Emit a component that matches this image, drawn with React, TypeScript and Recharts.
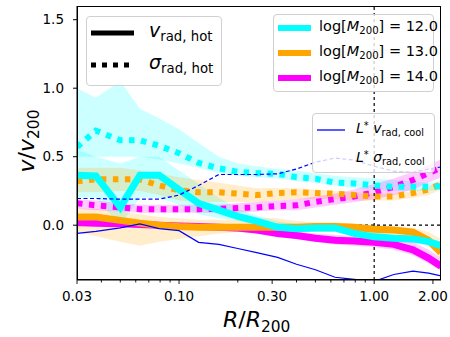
import { Area, ComposedChart, Line, ReferenceLine, XAxis, YAxis } from 'recharts'

const radius = [0.03, 0.0375, 0.05, 0.063, 0.079, 0.1, 0.126, 0.16, 0.2, 0.25, 0.32, 0.4, 0.5, 0.63, 0.79, 1.0, 1.26, 1.58, 1.9, 2.2]

// v_rad,hot (solid) and sigma_rad,hot (dotted) per halo mass
const vHot12 = [0.365, 0.36, 0.13, 0.365, 0.365, 0.26, 0.16, 0.11, 0.065, 0.03, -0.015, -0.025, -0.02, -0.02, -0.06, -0.085, -0.095, -0.1, -0.12, -0.15]
const vHot13 = [0.06, 0.06, 0.035, 0.015, 0.0, -0.01, -0.015, -0.015, -0.015, -0.015, -0.015, -0.015, -0.01, -0.01, -0.015, -0.03, -0.035, -0.05, -0.11, -0.2]
const vHot14 = [0.02, 0.015, 0.01, 0.005, 0.0, -0.005, -0.01, -0.015, -0.02, -0.035, -0.06, -0.075, -0.095, -0.11, -0.115, -0.125, -0.14, -0.18, -0.24, -0.3]
const sHot12 = [0.57, 0.69, 0.62, 0.62, 0.58, 0.525, 0.455, 0.415, 0.39, 0.38, 0.375, 0.35, 0.34, 0.31, 0.305, 0.29, 0.28, 0.28, 0.28, 0.285]
const sHot13 = [0.32, 0.335, 0.335, 0.335, 0.29, 0.255, 0.24, 0.24, 0.23, 0.22, 0.235, 0.24, 0.235, 0.23, 0.22, 0.21, 0.21, 0.235, 0.26, 0.3]
const sHot14 = [0.16, 0.145, 0.13, 0.117, 0.117, 0.117, 0.117, 0.12, 0.125, 0.13, 0.14, 0.145, 0.17, 0.19, 0.21, 0.24, 0.28, 0.33, 0.38, 0.42]

// 16-84 percentile bands
const vHot12Lo = [0.2, 0.2, 0.0, 0.2, 0.2, 0.15, 0.08, 0.05, 0.03, 0.0, -0.04, -0.05, -0.05, -0.05, -0.08, -0.11, -0.12, -0.13, -0.15, -0.18]
const vHot12Hi = [0.55, 0.5, 0.45, 0.5, 0.5, 0.4, 0.3, 0.2, 0.12, 0.07, 0.03, 0.01, 0.0, 0.0, -0.03, -0.05, -0.07, -0.07, -0.09, -0.12]
const vHot13Lo = [-0.05, -0.08, -0.12, -0.15, -0.12, -0.1, -0.08, -0.06, -0.05, -0.04, -0.04, -0.04, -0.05, -0.05, -0.05, -0.06, -0.07, -0.1, -0.15, -0.25]
const vHot13Hi = [0.12, 0.12, 0.1, 0.08, 0.06, 0.05, 0.04, 0.04, 0.04, 0.05, 0.05, 0.03, 0.02, 0.02, 0.01, 0.0, -0.01, -0.02, -0.05, -0.1]
const vHot14Lo = [-0.01, -0.01, -0.01, -0.01, -0.01, -0.02, -0.03, -0.04, -0.05, -0.06, -0.08, -0.1, -0.12, -0.14, -0.15, -0.16, -0.18, -0.22, -0.28, -0.33]
const vHot14Hi = [0.04, 0.04, 0.03, 0.02, 0.02, 0.01, 0.01, 0.0, -0.01, -0.01, -0.02, -0.04, -0.06, -0.07, -0.08, -0.09, -0.1, -0.12, -0.18, -0.24]
const sHot12Lo = [0.5, 0.5, 0.5, 0.5, 0.48, 0.45, 0.42, 0.38, 0.36, 0.35, 0.34, 0.32, 0.31, 0.29, 0.27, 0.26, 0.25, 0.25, 0.25, 0.26]
const sHot12Hi = [1.0, 0.93, 1.05, 0.85, 0.78, 0.7, 0.6, 0.5, 0.45, 0.43, 0.41, 0.4, 0.38, 0.36, 0.35, 0.34, 0.33, 0.32, 0.31, 0.31]
const sHot13Lo = [0.24, 0.24, 0.25, 0.25, 0.22, 0.18, 0.17, 0.17, 0.17, 0.17, 0.18, 0.19, 0.19, 0.19, 0.18, 0.18, 0.18, 0.2, 0.22, 0.26]
const sHot13Hi = [0.42, 0.42, 0.42, 0.4, 0.38, 0.35, 0.33, 0.31, 0.29, 0.27, 0.27, 0.27, 0.26, 0.25, 0.24, 0.23, 0.23, 0.25, 0.28, 0.33]
const sHot14Lo = [0.12, 0.11, 0.1, 0.09, 0.09, 0.09, 0.09, 0.09, 0.09, 0.1, 0.11, 0.11, 0.13, 0.15, 0.17, 0.19, 0.22, 0.26, 0.31, 0.35]
const sHot14Hi = [0.19, 0.18, 0.16, 0.15, 0.15, 0.15, 0.15, 0.15, 0.16, 0.17, 0.18, 0.19, 0.21, 0.23, 0.26, 0.3, 0.34, 0.39, 0.44, 0.48]

// L* cool gas
const vCool = [-0.06, -0.045, -0.02, 0.01, -0.025, -0.04, -0.125, -0.14, -0.17, -0.2, -0.235, -0.285, -0.325, -0.38, -0.395, -0.41, -0.36, -0.335, -0.35, -0.37]
const sCool = [0.195, 0.195, 0.19, 0.19, 0.19, 0.22, 0.29, 0.37, 0.37, 0.37, 0.375, 0.41, 0.46, 0.49, 0.475, 0.43, 0.395, 0.385, 0.41, 0.425]

const majorTicks = [0.03, 0.1, 0.3, 1, 2]
const minorTicks = [0.04, 0.05, 0.06, 0.07, 0.08, 0.09, 0.2, 0.4, 0.5, 0.6, 0.7, 0.8, 0.9]
const yTicks = [0, 0.5, 1, 1.5]

const CYAN = '#00ffff'
const ORANGE = '#ffa500'
const MAGENTA = '#ff00ff'
const BLUE = '#0000ff'
const FONT = 'DejaVu Sans'

const data = radius.map((r, i) => ({
  r,
  vHot12: vHot12[i],
  vHot13: vHot13[i],
  vHot14: vHot14[i],
  sHot12: sHot12[i],
  sHot13: sHot13[i],
  sHot14: sHot14[i],
  vHot12Band: [vHot12Lo[i], vHot12Hi[i]],
  vHot13Band: [vHot13Lo[i], vHot13Hi[i]],
  vHot14Band: [vHot14Lo[i], vHot14Hi[i]],
  sHot12Band: [sHot12Lo[i], sHot12Hi[i]],
  sHot13Band: [sHot13Lo[i], sHot13Hi[i]],
  sHot14Band: [sHot14Lo[i], sHot14Hi[i]],
  vCool: vCool[i],
  sCool: sCool[i],
}))

function XTick(props: any) {
  const { x, y, payload } = props
  const major = majorTicks.includes(payload.value)
  return (
    <g>
      <line x1={x} x2={x} y1={y} y2={y + (major ? 4 : 2.5)} stroke="#000" strokeWidth={0.9} />
      {major ? (
        <text x={x} y={y + 20.5} textAnchor="middle" fontSize={13.5} fontFamily={FONT} fill="#000">
          {payload.value.toFixed(2)}
        </text>
      ) : null}
    </g>
  )
}

const sub = { fontSize: '0.7em', position: 'relative' as const, top: '0.3em' }
const sup = { fontSize: '0.7em', position: 'relative' as const, top: '-0.45em' }

function LegendBox({ left, top, width, height, children }: any) {
  return (
    <div
      style={{
        position: 'absolute',
        left,
        top,
        width,
        height,
        border: '1px solid #d0d0d0',
        borderRadius: 4,
        background: 'rgba(255,255,255,0.8)',
        boxSizing: 'border-box',
      }}
    >
      {children}
    </div>
  )
}

function Row({ top, handle, children, fontSize, textLeft }: any) {
  return (
    <div style={{ position: 'absolute', left: 0, top, height: 0, width: '100%' }}>
      {handle ? <div style={{ position: 'absolute', left: 4, top: -6 }}>{handle}</div> : null}
      <div
        style={{
          position: 'absolute',
          left: textLeft,
          top: -fontSize * 0.62,
          fontSize,
          fontFamily: FONT,
          whiteSpace: 'nowrap',
          lineHeight: 1,
        }}
      >
        {children}
      </div>
    </div>
  )
}

function Handle({ color, width, strokeWidth, dash }: any) {
  return (
    <svg width={width} height={12} style={{ display: 'block' }}>
      <line x1={0} x2={width} y1={6} y2={6} stroke={color} strokeWidth={strokeWidth} strokeDasharray={dash} />
    </svg>
  )
}

export default function App() {
  return (
    <div style={{ position: 'absolute', left: 0, top: 0, width: 450, height: 337, background: '#fff' }}>
      <ComposedChart width={450} height={337} data={data} margin={{ top: 6, right: 9, left: 0, bottom: 0 }}>
        <XAxis
          dataKey="r"
          type="number"
          scale="log"
          domain={[0.03, 2.2]}
          allowDataOverflow
          ticks={[...majorTicks, ...minorTicks]}
          interval={0}
          tick={<XTick />}
          tickLine={false}
          tickSize={0}
          tickMargin={0}
          height={57}
          axisLine={{ stroke: '#000' }}
        />
        <YAxis
          type="number"
          domain={[-0.4, 1.6]}
          allowDataOverflow
          ticks={yTicks}
          interval={0}
          tickFormatter={(v: number) => v.toFixed(1)}
          tick={{ fill: '#000', fontSize: 13.5, fontFamily: FONT }}
          tickLine={{ stroke: '#000' }}
          tickSize={4}
          tickMargin={9}
          width={77}
          axisLine={{ stroke: '#000' }}
        />
        <ReferenceLine x={1} stroke="#000" strokeDasharray="3 3" strokeWidth={1.2} />
        <ReferenceLine y={0} stroke="#000" strokeDasharray="3 3" strokeWidth={1.2} />

        <Area dataKey="sHot12Band" stroke="none" fill={CYAN} fillOpacity={0.2} isAnimationActive={false} />
        <Area dataKey="vHot12Band" stroke="none" fill={CYAN} fillOpacity={0.2} isAnimationActive={false} />
        <Area dataKey="sHot13Band" stroke="none" fill={ORANGE} fillOpacity={0.2} isAnimationActive={false} />
        <Area dataKey="vHot13Band" stroke="none" fill={ORANGE} fillOpacity={0.2} isAnimationActive={false} />
        <Area dataKey="sHot14Band" stroke="none" fill={MAGENTA} fillOpacity={0.2} isAnimationActive={false} />
        <Area dataKey="vHot14Band" stroke="none" fill={MAGENTA} fillOpacity={0.2} isAnimationActive={false} />

        <Line dataKey="vHot14" stroke={MAGENTA} strokeWidth={7} dot={false} isAnimationActive={false} />
        <Line dataKey="sHot14" stroke={MAGENTA} strokeWidth={6} strokeDasharray="5.5 6.5" dot={false} isAnimationActive={false} />
        <Line dataKey="vHot13" stroke={ORANGE} strokeWidth={7} dot={false} isAnimationActive={false} />
        <Line dataKey="sHot13" stroke={ORANGE} strokeWidth={6} strokeDasharray="5.5 6.5" dot={false} isAnimationActive={false} />
        <Line dataKey="vHot12" stroke={CYAN} strokeWidth={7} dot={false} isAnimationActive={false} />
        <Line dataKey="sHot12" stroke={CYAN} strokeWidth={6} strokeDasharray="5.5 6.5" dot={false} isAnimationActive={false} />
        <Line dataKey="vCool" stroke={BLUE} strokeWidth={1.2} dot={false} isAnimationActive={false} />
        <Line dataKey="sCool" stroke={BLUE} strokeWidth={1.2} strokeDasharray="4 2.5" dot={false} isAnimationActive={false} />
      </ComposedChart>

      {/* top and right spines */}
      <div
        style={{
          position: 'absolute',
          left: 77,
          top: 6,
          width: 364,
          height: 274,
          border: '1px solid #000',
          boxSizing: 'border-box',
          pointerEvents: 'none',
        }}
      />

      <LegendBox left={86} top={16} width={136} height={70}>
        <Row top={16} textLeft={62} fontSize={19} handle={<Handle color="#000" width={43} strokeWidth={5} />}>
          <i>v</i>
          <span style={sub}>rad, hot</span>
        </Row>
        <Row top={48} textLeft={62} fontSize={19} handle={<Handle color="#000" width={43} strokeWidth={5} dash="5 6" />}>
          <i>σ</i>
          <span style={sub}>rad, hot</span>
        </Row>
      </LegendBox>

      <LegendBox left={273} top={14} width={161} height={78}>
        <Row top={13} textLeft={45} fontSize={14.5} handle={<Handle color={CYAN} width={33} strokeWidth={6} />}>
          log[<i>M</i>
          <span style={sub}>200</span>] = 12.0
        </Row>
        <Row top={38} textLeft={45} fontSize={14.5} handle={<Handle color={ORANGE} width={33} strokeWidth={6} />}>
          log[<i>M</i>
          <span style={sub}>200</span>] = 13.0
        </Row>
        <Row top={63} textLeft={45} fontSize={14.5} handle={<Handle color={MAGENTA} width={33} strokeWidth={6} />}>
          log[<i>M</i>
          <span style={sub}>200</span>] = 14.0
        </Row>
      </LegendBox>

      <LegendBox left={312} top={113} width={123} height={60}>
        <Row top={16} textLeft={43} fontSize={14} handle={<Handle color={BLUE} width={28} strokeWidth={1.3} />}>
          <i>L</i>
          <span style={sup}>*</span> <i>v</i>
          <span style={sub}>rad, cool</span>
        </Row>
        <Row top={45} textLeft={43} fontSize={14}>
          <i>L</i>
          <span style={sup}>*</span> <i>σ</i>
          <span style={sub}>rad, cool</span>
        </Row>
      </LegendBox>

      <div
        style={{
          position: 'absolute',
          left: 223,
          top: 309,
          fontSize: 22,
          fontFamily: FONT,
          whiteSpace: 'nowrap',
          lineHeight: 1,
        }}
      >
        <i>R</i>/<i>R</i>
        <span style={sub}>200</span>
      </div>

      <div
        style={{
          position: 'absolute',
          left: 27,
          top: 141,
          fontSize: 22,
          fontFamily: FONT,
          whiteSpace: 'nowrap',
          lineHeight: 1,
          transform: 'translate(-50%, -50%) rotate(-90deg)',
        }}
      >
        <i>v</i>/<i>v</i>
        <span style={sub}>200</span>
      </div>
    </div>
  )
}
